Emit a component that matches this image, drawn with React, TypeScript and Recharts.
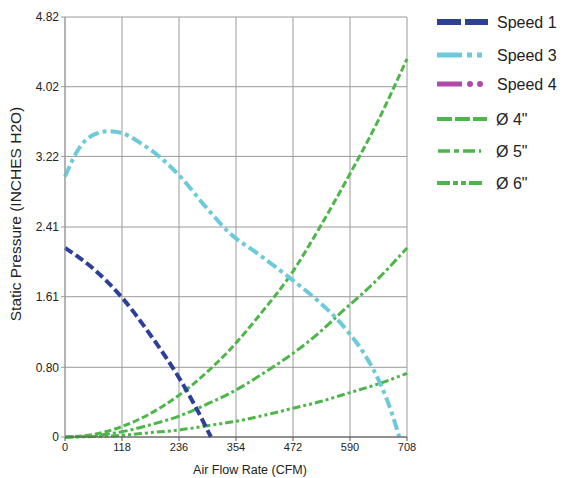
import React from 'react';
import { LineChart, Line, XAxis, YAxis, CartesianGrid } from 'recharts';

const xTicks = [0, 118, 236, 354, 472, 590, 708];
const yTicks = [0, 0.8, 1.61, 2.41, 3.22, 4.02, 4.82];

const speed1 = [
  { q: 0, p: 2.17 },
  { q: 59, p: 1.93 },
  { q: 118, p: 1.6 },
  { q: 177, p: 1.17 },
  { q: 236, p: 0.68 },
  { q: 270, p: 0.35 },
  { q: 302, p: 0 },
];

const speed3 = [
  { q: 0, p: 2.99 },
  { q: 31, p: 3.33 },
  { q: 60, p: 3.47 },
  { q: 93, p: 3.51 },
  { q: 117, p: 3.49 },
  { q: 160, p: 3.36 },
  { q: 197, p: 3.21 },
  { q: 240, p: 2.98 },
  { q: 290, p: 2.65 },
  { q: 341, p: 2.34 },
  { q: 400, p: 2.1 },
  { q: 462, p: 1.84 },
  { q: 520, p: 1.58 },
  { q: 562, p: 1.36 },
  { q: 590, p: 1.18 },
  { q: 620, p: 0.95 },
  { q: 652, p: 0.62 },
  { q: 675, p: 0.3 },
  { q: 692, p: 0 },
];

const speed4: { q: number; p: number }[] = [];

const dia4 = [
  { q: 0, p: 0 },
  { q: 59, p: 0.03 },
  { q: 118, p: 0.12 },
  { q: 177, p: 0.27 },
  { q: 236, p: 0.48 },
  { q: 295, p: 0.75 },
  { q: 341, p: 1.0 },
  { q: 413, p: 1.47 },
  { q: 462, p: 1.82 },
  { q: 531, p: 2.44 },
  { q: 583, p: 2.95 },
  { q: 649, p: 3.64 },
  { q: 708, p: 4.34 },
];

const dia5 = [
  { q: 0, p: 0 },
  { q: 59, p: 0.015 },
  { q: 118, p: 0.06 },
  { q: 177, p: 0.14 },
  { q: 236, p: 0.24 },
  { q: 295, p: 0.38 },
  { q: 341, p: 0.5 },
  { q: 413, p: 0.74 },
  { q: 472, p: 0.96 },
  { q: 531, p: 1.22 },
  { q: 562, p: 1.38 },
  { q: 649, p: 1.82 },
  { q: 708, p: 2.17 },
];

const dia6 = [
  { q: 0, p: 0 },
  { q: 59, p: 0.005 },
  { q: 118, p: 0.02 },
  { q: 177, p: 0.05 },
  { q: 236, p: 0.08 },
  { q: 295, p: 0.13 },
  { q: 354, p: 0.18 },
  { q: 413, p: 0.25 },
  { q: 472, p: 0.33 },
  { q: 531, p: 0.41 },
  { q: 590, p: 0.51 },
  { q: 649, p: 0.61 },
  { q: 708, p: 0.73 },
];

const BLUE = '#2d3f98';
const CYAN = '#6ccad9';
const MAGENTA = '#b04aa8';
const GREEN = '#4cb648';
const FONT = '"Liberation Sans", Arial, sans-serif';

const Legend = () => (
  <svg
    width={141}
    height={200}
    style={{ position: 'absolute', left: 430, top: 0 }}
    fontFamily={FONT}
  >
    {/* Speed 1 */}
    <line x1={7} x2={58} y1={22} y2={22} stroke={BLUE} strokeWidth={6} strokeDasharray="24 4" />
    <text x={67} y={28} fontSize={16} fill="#222">Speed 1</text>
    {/* Speed 3 */}
    <line x1={7} x2={32} y1={55} y2={55} stroke={CYAN} strokeWidth={5} />
    <rect x={37} y={52.5} width={5} height={5} fill={CYAN} />
    <rect x={47} y={52.5} width={5} height={5} fill={CYAN} />
    <text x={67} y={61} fontSize={16} fill="#222">Speed 3</text>
    {/* Speed 4 */}
    <line x1={7} x2={32} y1={84} y2={84} stroke={MAGENTA} strokeWidth={5} />
    <circle cx={40} cy={84} r={3} fill={MAGENTA} />
    <circle cx={50} cy={84} r={3} fill={MAGENTA} />
    <text x={67} y={90} fontSize={16} fill="#222">Speed 4</text>
    {/* dia 4 */}
    <line x1={7} x2={57} y1={119} y2={119} stroke={GREEN} strokeWidth={4} strokeDasharray="15 3" />
    <text x={66} y={125} fontSize={16} fill="#222">Ø 4"</text>
    {/* dia 5 */}
    <line x1={8} x2={51} y1={151} y2={151} stroke={GREEN} strokeWidth={3.5} strokeDasharray="12 4 5 4" />
    <text x={66} y={157} fontSize={16} fill="#222">Ø 5"</text>
    {/* dia 6 */}
    <line x1={7} x2={54} y1={183} y2={183} stroke={GREEN} strokeWidth={4} strokeDasharray="13 3 5 3 5 3" />
    <text x={66} y={189} fontSize={16} fill="#222">Ø 6"</text>
  </svg>
);

const fmtY = (v: number) => (v === 0 ? '0' : v.toFixed(2));

export default function App() {
  return (
    <div style={{ position: 'absolute', left: 0, top: 0, width: 571, height: 478, background: '#fff' }}>
      <LineChart
        width={571}
        height={478}
        margin={{ top: 17, right: 164, left: 0, bottom: 1 }}
        style={{ fontFamily: FONT }}
      >
        <CartesianGrid stroke="#9a9a9a" strokeWidth={1} />
        <XAxis
          dataKey="q"
          type="number"
          domain={[0, 708]}
          ticks={xTicks}
          height={40}
          stroke="#555"
          tick={{ fill: '#222', fontSize: 11 }}
          tickSize={4}
          label={{ value: 'Air Flow Rate (CFM)', position: 'insideBottom', offset: 3, dx: 14, fill: '#222', fontSize: 12.5 }}
        />
        <YAxis
          dataKey="p"
          type="number"
          domain={[0, 4.82]}
          ticks={yTicks}
          width={65}
          stroke="#9a9a9a"
          tickFormatter={fmtY}
          tick={{ fill: '#222', fontSize: 12 }}
          tickSize={4}
          label={{ value: 'Static Pressure (INCHES H2O)', angle: -90, position: 'center', dx: -17, dy: -13, fill: '#222', fontSize: 15.5 }}
        />
        <Line data={dia6} dataKey="p" type="monotone" stroke={GREEN} strokeWidth={3} strokeDasharray="8 3 3 3 3 3" dot={false} isAnimationActive={false} />
        <Line data={dia5} dataKey="p" type="monotone" stroke={GREEN} strokeWidth={3} strokeDasharray="9 3 3 3" dot={false} isAnimationActive={false} />
        <Line data={dia4} dataKey="p" type="monotone" stroke={GREEN} strokeWidth={3} strokeDasharray="7 3" dot={false} isAnimationActive={false} />
        <Line data={speed4} dataKey="p" type="monotone" stroke={MAGENTA} strokeWidth={4} dot={false} isAnimationActive={false} />
        <Line data={speed3} dataKey="p" type="monotone" stroke={CYAN} strokeWidth={4} strokeDasharray="11 4 4 4" dot={false} isAnimationActive={false} />
        <Line data={speed1} dataKey="p" type="monotone" stroke={BLUE} strokeWidth={4} strokeDasharray="9 4" dot={false} isAnimationActive={false} />
      </LineChart>
      <Legend />
    </div>
  );
}
